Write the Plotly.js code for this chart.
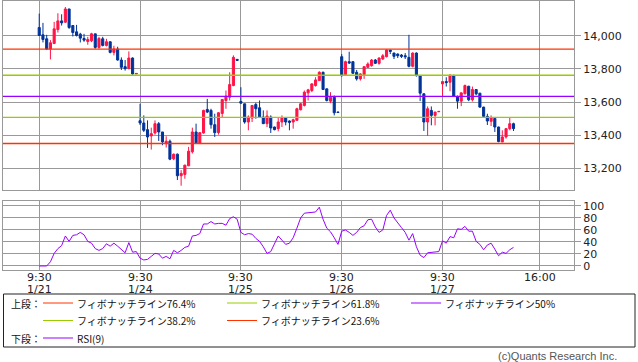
<!DOCTYPE html>
<html><head><meta charset="utf-8">
<script src="https://cdn.plot.ly/plotly-3.0.1.min.js"></script>
<style>html,body{margin:0;padding:0;background:#fff;}#chart{width:638px;height:362px;}</style>
</head><body><div id="chart"></div>
<script>
// ---- data (15-minute bars, 9:30 .. 16:00 each day) ----
const days = ['1/21','1/24','1/25','1/26','1/27'];
const barsPerDay = 27;
const opens = [
 14050,14006,13982,13920,13954,14038,14090,14082,14162,14062,14024,14010,13984,13966,13970,14012,13930,13982,13942,13964,13900,13920,13854,13814,13802,13866,13770,
 13488,13474,13434,13396,13414,13470,13420,13350,13364,13258,13286,13156,13164,13216,13300,13420,13354,13414,13556,13550,13464,13416,13532,13610,13630,13700,13858,
 13604,13590,13480,13504,13586,13566,13510,13470,13510,13450,13440,13480,13504,13486,13480,13490,13554,13580,13656,13670,13700,13730,13780,13680,13606,13630,13540,
 13874,13766,13844,13844,13780,13740,13766,13810,13820,13854,13834,13860,13874,13914,13896,13890,13884,13880,13870,13816,13896,13760,13650,13480,13550,13520,13542,
 13710,13724,13720,13760,13634,13606,13650,13696,13614,13676,13654,13570,13514,13484,13502,13450,13360,13390,13440,13470];
const highs = [
 14134,14078,14006,13974,14084,14136,14130,14174,14162,14062,14066,14018,14012,13994,14018,14012,13994,13994,13982,13966,13940,13934,13870,13854,13906,13870,13774,
 13590,13520,13490,13446,13490,13480,13420,13394,13374,13290,13290,13190,13222,13330,13446,13470,13418,13554,13620,13560,13530,13540,13618,13670,13780,13882,13859,
 13690,13590,13520,13582,13596,13610,13550,13550,13520,13452,13506,13520,13506,13490,13500,13566,13596,13670,13680,13714,13750,13786,13784,13682,13660,13640,13542,
 13890,13850,13904,13846,13794,13774,13816,13840,13860,13860,13870,13890,13920,13916,13898,13894,13890,13896,14006,13900,13900,13762,13654,13574,13574,13542,13546,
 13726,13750,13770,13766,13640,13658,13706,13698,13694,13678,13656,13572,13530,13520,13506,13452,13430,13444,13506,13476];
const lows = [
 14000,13960,13914,13858,13950,14020,14062,14078,14042,13996,13996,13960,13964,13946,13962,13922,13922,13936,13936,13894,13882,13850,13794,13790,13798,13766,13770,
 13462,13420,13324,13314,13404,13366,13340,13326,13250,13250,13130,13096,13138,13214,13290,13352,13352,13410,13534,13440,13390,13404,13510,13560,13610,13696,13851,
 13590,13470,13430,13480,13500,13506,13468,13450,13414,13430,13424,13450,13460,13430,13440,13488,13550,13574,13610,13660,13694,13728,13674,13604,13594,13520,13536,
 13754,13764,13830,13770,13730,13730,13740,13806,13814,13830,13826,13854,13870,13890,13860,13866,13866,13860,13810,13810,13754,13606,13426,13396,13460,13460,13540,
 13632,13694,13666,13632,13560,13576,13648,13606,13604,13642,13566,13510,13462,13456,13420,13358,13358,13380,13430,13426];
const closes = [
 14002,13978,13920,13958,14042,14090,14078,14162,14050,14020,14002,13986,13974,13978,14012,13930,13984,13942,13964,13900,13920,13854,13810,13802,13866,13770,13773,
 13474,13430,13390,13410,13470,13420,13360,13364,13256,13286,13156,13170,13220,13304,13420,13354,13416,13550,13540,13464,13416,13536,13616,13636,13706,13870,13852,
 13594,13480,13510,13580,13560,13510,13470,13516,13444,13434,13480,13506,13480,13478,13494,13560,13590,13660,13674,13710,13734,13780,13676,13610,13630,13536,13538,
 13760,13844,13836,13774,13740,13770,13814,13830,13854,13834,13866,13880,13914,13906,13876,13880,13876,13874,13816,13896,13760,13654,13480,13560,13520,13540,13544,
 13724,13718,13760,13634,13606,13656,13700,13614,13676,13650,13570,13514,13486,13506,13450,13362,13390,13440,13470,13440];
const rsi = [
 0,0,0,7,21,29,34,50,41,51,52,56,52,41,38,29,26,29,37,33,38,33,28,22,39,23,24,
 13,10,11,16,21,20,13,16,12,26,22,26,31,33,50,51,54,70,70,74,70,71,71,68,79,82,78,
 56,52,54,53,46,41,32,21,24,38,50,43,36,38,47,63,80,88,89,89,90,98,78,63,57,47,36,
 58,60,56,51,56,64,67,77,78,65,56,60,84,93,80,71,64,56,43,54,32,18,14,22,23,24,24,
 42,38,49,47,62,61,66,58,58,41,36,27,35,38,28,17,23,21,27,31];
const fibRatios = [0.764, 0.618, 0.5, 0.382, 0.236];
const fibNames = ['フィボナッチライン76.4%','フィボナッチライン61.8%','フィボナッチライン50%','フィボナッチライン38.2%','フィボナッチライン23.6%'];
const priceTicks = [13200, 13400, 13600, 13800, 14000];
const rsiTicks = [0, 20, 40, 60, 80, 100];

// ---- build ----
const idx = opens.map((_, i) => i);
const hi = Math.max(...highs), lo = Math.min(...lows);
const fibLevels = fibRatios.map(r => lo + r * (hi - lo));
const RED = '#ff1447', BLUE = '#003399';
const fibColors = ['#ff3300', '#99cc00', '#9900ff', '#99cc00', '#ff3300'];
const RSICOL = '#9900ff';
const GRID = '#999999';

const dayStarts = days.map((d, k) => k * barsPerDay);
const tickVals = dayStarts.concat([(days.length - 1) * barsPerDay + barsPerDay - 1]);
const tickText = days.map(() => '9:30').concat(['16:00']);

// pixel -> paper helpers for decorations
const L = 3, T = 1, W = 571, H = 270;
const px = x => (x - L) / W;
const py = y => (T + H - y) / H;

const traces = [
 { type: 'candlestick', x: idx, open: opens, high: highs, low: lows, close: closes,
   xaxis: 'x', yaxis: 'y', hoverinfo: 'skip', whiskerwidth: 0,
   increasing: { line: { color: RED, width: 1 }, fillcolor: RED },
   decreasing: { line: { color: BLUE, width: 1 }, fillcolor: BLUE },
   showlegend: false },
 { type: 'scatter', mode: 'lines', x: idx.slice(0, rsi.length), y: rsi, xaxis: 'x2', yaxis: 'y2',
   line: { color: RSICOL, width: 1 }, hoverinfo: 'skip', showlegend: false }
];

const shapes = fibLevels.map((v, k) => ({ type: 'line', xref: 'paper', yref: 'y', x0: 0, x1: 1, y0: v, y1: v,
   line: { color: fibColors[k], width: 1.3 }, layer: 'above' }));
// legend frame
shapes.push({ type: 'rect', xref: 'paper', yref: 'paper', x0: px(3.5), x1: px(635), y0: py(347), y1: py(294),
   line: { color: '#222', width: 1 }, fillcolor: 'rgba(0,0,0,0)' });

const tickFont = { family: 'DejaVu Sans', size: 11, color: '#222' };
const annotations = [];
// time and date labels under the grid ticks
tickVals.forEach((v, k) => annotations.push({ xref: 'x2', yref: 'paper', x: v, y: py(277), xanchor: 'center', yanchor: 'middle',
  text: tickText[k], showarrow: false, font: tickFont, borderpad: 0 }));
days.forEach((d, k) => annotations.push({ xref: 'x2', yref: 'paper', x: dayStarts[k], y: py(289), xanchor: 'center', yanchor: 'middle',
  text: d, showarrow: false, font: tickFont, borderpad: 0 }));

const rowY = [303, 320.5, 338];
const legendItems = [
 { row: 0, col: 0, k: 0 }, { row: 0, col: 1, k: 1 }, { row: 0, col: 2, k: 2 },
 { row: 1, col: 0, k: 3 }, { row: 1, col: 1, k: 4 }];
const colX = [43, 227, 411];
const lfont = { family: 'Noto Sans CJK JP', size: 10, color: '#111' };
legendItems.forEach(it => {
  const x0 = colX[it.col], y = rowY[it.row];
  shapes.push({ type: 'line', xref: 'paper', yref: 'paper', x0: px(x0), x1: px(x0 + 30), y0: py(y), y1: py(y),
    line: { color: fibColors[it.k], width: 1 } });
  annotations.push({ xref: 'paper', yref: 'paper', x: px(x0 + 33), y: py(y), xanchor: 'left', yanchor: 'middle',
    text: fibNames[it.k], showarrow: false, font: lfont, borderpad: 0 });
});
shapes.push({ type: 'line', xref: 'paper', yref: 'paper', x0: px(43), x1: px(73), y0: py(rowY[2]), y1: py(rowY[2]),
  line: { color: RSICOL, width: 1 } });
annotations.push({ xref: 'paper', yref: 'paper', x: px(76), y: py(rowY[2]), xanchor: 'left', yanchor: 'middle',
  text: 'RSI(9)', showarrow: false, font: lfont, borderpad: 0 });
annotations.push({ xref: 'paper', yref: 'paper', x: px(10), y: py(rowY[0]), xanchor: 'left', yanchor: 'middle',
  text: '上段：', showarrow: false, font: lfont, borderpad: 0 });
annotations.push({ xref: 'paper', yref: 'paper', x: px(10), y: py(rowY[2]), xanchor: 'left', yanchor: 'middle',
  text: '下段：', showarrow: false, font: lfont, borderpad: 0 });
annotations.push({ xref: 'paper', yref: 'paper', x: px(618), y: py(356), xanchor: 'right', yanchor: 'middle',
  text: '(c)Quants Research Inc.', showarrow: false, font: { family: 'Liberation Sans', size: 11, color: '#555' }, borderpad: 0 });

const xr = [-9.7, 143.2];
const layout = {
  width: 638, height: 362, margin: { l: L, r: 638 - L - W, t: T, b: 362 - T - H },
  paper_bgcolor: '#fff', plot_bgcolor: '#fff', boxgap: 0.2, showlegend: false,
  xaxis: { domain: [0, 1], anchor: 'y', range: xr, tickmode: 'array', tickvals: tickVals,
    showticklabels: false, showgrid: true, gridcolor: GRID, gridwidth: 1, zeroline: false,
    showline: true, mirror: true, linecolor: GRID, linewidth: 1, ticks: '', rangeslider: { visible: false }, fixedrange: true },
  yaxis: { domain: [py(190), 1], anchor: 'x', range: [13070, 14210], side: 'right', tickmode: 'array', tickvals: priceTicks,
    tickformat: ',d', tickfont: tickFont, showgrid: true, gridcolor: GRID, gridwidth: 1, zeroline: false,
    showline: true, mirror: true, linecolor: GRID, linewidth: 1, ticks: 'outside', ticklen: 6, tickcolor: GRID, fixedrange: true },
  xaxis2: { domain: [0, 1], anchor: 'y2', matches: 'x', range: xr, tickmode: 'array', tickvals: tickVals,
    showticklabels: false, showgrid: true, gridcolor: GRID, gridwidth: 1, zeroline: false,
    showline: true, mirror: true, linecolor: GRID, linewidth: 1, ticks: '', fixedrange: true },
  yaxis2: { domain: [py(270.3), py(201)], anchor: 'x2', range: [-7.2, 108.3], side: 'right', tickmode: 'array', tickvals: rsiTicks,
    tickfont: tickFont, showgrid: true, gridcolor: GRID, gridwidth: 1, zeroline: false,
    showline: true, mirror: true, linecolor: GRID, linewidth: 1, ticks: 'outside', ticklen: 6, tickcolor: GRID, fixedrange: true },
  shapes: shapes, annotations: annotations
};
Plotly.newPlot('chart', traces, layout, { staticPlot: true, displayModeBar: false });
</script></body></html>
